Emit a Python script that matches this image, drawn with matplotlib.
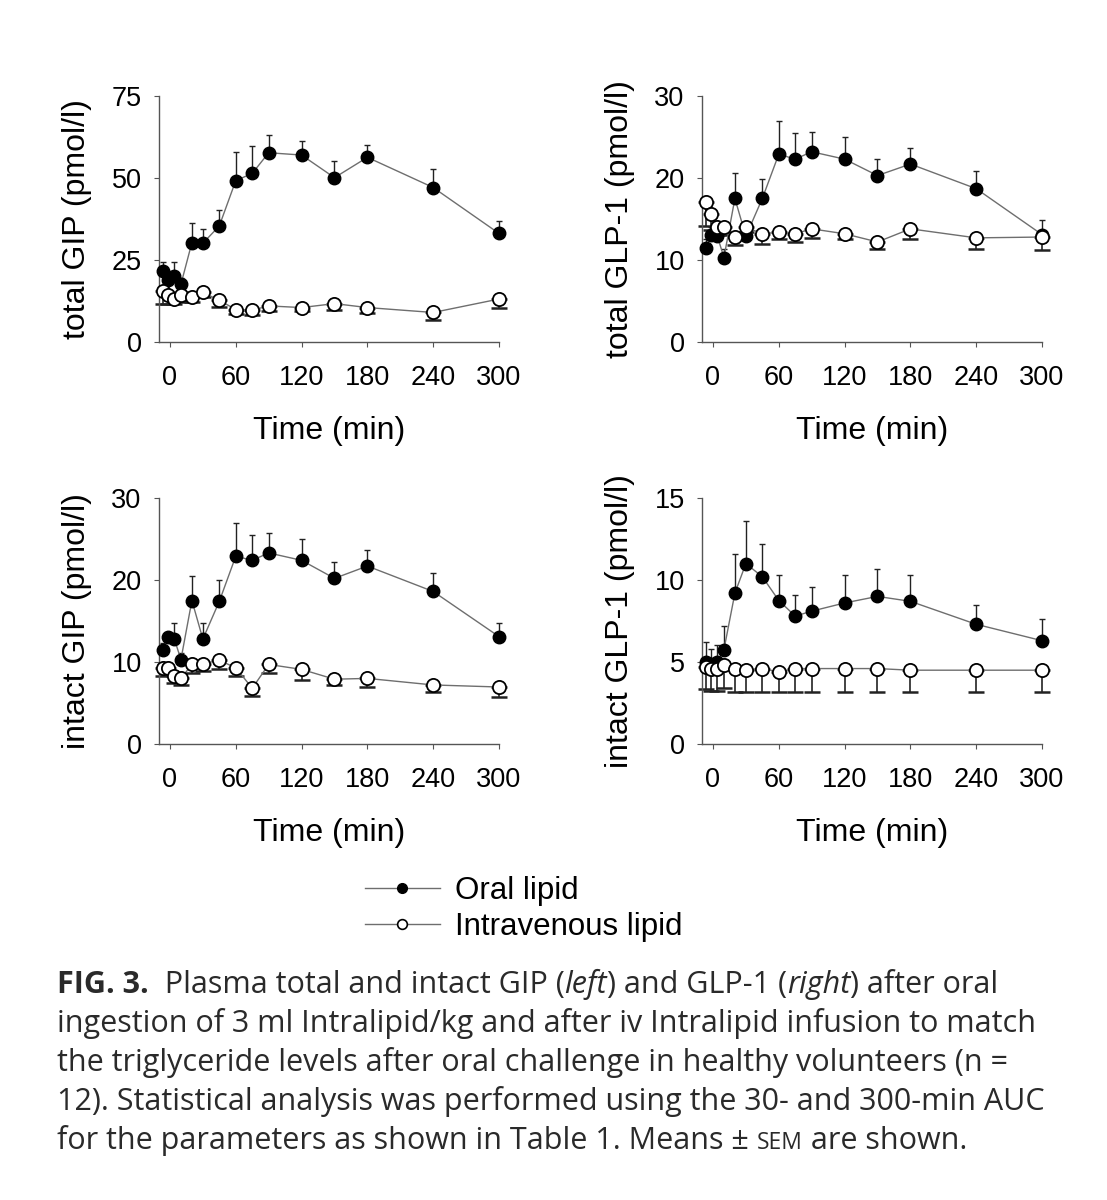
import numpy as np
import matplotlib
matplotlib.use("Agg")
import matplotlib.pyplot as plt
from matplotlib.lines import Line2D

plt.rcParams['font.family'] = ['Liberation Sans', 'DejaVu Sans']

# sampling times (min)
time = [-6, -2, 4, 10, 20, 30, 45, 60, 75, 90, 120, 150, 180, 240, 300]

# total GIP
gip_tot_oral = [21.7, 19.0, 20.0, 17.6, 30.3, 30.1, 35.4, 49.2, 51.4, 57.7, 57.0, 50.1, 56.3, 47.1, 33.1]
gip_tot_oral_sem = [2.7, 2.0, 4.4, 2.0, 6.1, 4.5, 4.8, 8.8, 8.4, 5.3, 4.2, 5.1, 3.9, 5.5, 3.7]
gip_tot_iv = [15.6, 14.2, 13.2, 14.2, 13.7, 15.1, 12.7, 9.9, 9.7, 11.0, 10.5, 11.7, 10.5, 9.0, 13.1]
gip_tot_iv_sem = [3.9, 2.5, 1.7, 2.0, 1.5, 1.5, 2.0, 1.5, 1.6, 1.5, 1.2, 2.0, 1.6, 2.2, 2.6]

# total GLP-1
glp_tot_oral = [11.5, 13.0, 12.9, 10.3, 17.5, 12.9, 17.5, 22.9, 22.3, 23.2, 22.3, 20.3, 21.7, 18.7, 13.1]
glp_tot_oral_sem = [1.0, 1.0, 1.2, 1.0, 3.1, 1.0, 2.4, 4.1, 3.2, 2.4, 2.7, 2.0, 1.9, 2.2, 1.8]
glp_tot_iv = [17.1, 15.6, 14.0, 14.0, 12.8, 14.0, 13.2, 13.4, 13.2, 13.8, 13.2, 12.2, 13.8, 12.7, 12.8]
glp_tot_iv_sem = [3.0, 2.0, 1.0, 1.0, 1.0, 0.6, 1.3, 0.8, 1.0, 1.1, 0.7, 0.9, 1.3, 1.4, 1.6]

# intact GIP
gip_int_oral = [11.5, 13.0, 12.8, 10.3, 17.5, 12.8, 17.4, 22.9, 22.4, 23.3, 22.4, 20.2, 21.7, 18.6, 13.1]
gip_int_oral_sem = [0.8, 0.7, 1.9, 0.8, 3.0, 1.9, 2.6, 4.1, 3.1, 2.4, 2.6, 2.0, 1.9, 2.3, 1.7]
gip_int_iv = [9.3, 9.3, 8.3, 8.0, 9.7, 9.8, 10.2, 9.3, 6.8, 9.7, 9.1, 7.9, 8.0, 7.2, 6.95]
gip_int_iv_sem = [1.0, 0.8, 0.8, 0.8, 1.0, 0.9, 1.1, 1.0, 0.9, 1.0, 1.3, 0.7, 1.0, 0.8, 1.25]

# intact GLP-1
glp_int_oral = [5.0, 4.9, 5.0, 5.75, 9.2, 11.0, 10.2, 8.75, 7.8, 8.1, 8.6, 9.0, 8.7, 7.3, 6.3]
glp_int_oral_sem = [1.2, 0.9, 1.05, 1.45, 2.4, 2.6, 2.0, 1.55, 1.3, 1.5, 1.7, 1.7, 1.6, 1.2, 1.3]
glp_int_iv = [4.7, 4.6, 4.6, 4.8, 4.6, 4.5, 4.6, 4.4, 4.6, 4.6, 4.6, 4.6, 4.5, 4.5, 4.5]
glp_int_iv_sem = [1.35, 1.35, 1.35, 1.4, 1.4, 1.3, 1.4, 1.25, 1.4, 1.4, 1.4, 1.4, 1.3, 1.3, 1.3]

x_ticks = [0, 60, 120, 180, 240, 300]

panels = [
    ("total GIP (pmol/l)", [0, 25, 50, 75], gip_tot_oral, gip_tot_oral_sem, gip_tot_iv, gip_tot_iv_sem),
    ("total GLP-1 (pmol/l)", [0, 10, 20, 30], glp_tot_oral, glp_tot_oral_sem, glp_tot_iv, glp_tot_iv_sem),
    ("intact GIP (pmol/l)", [0, 10, 20, 30], gip_int_oral, gip_int_oral_sem, gip_int_iv, gip_int_iv_sem),
    ("intact GLP-1 (pmol/l)", [0, 5, 10, 15], glp_int_oral, glp_int_oral_sem, glp_int_iv, glp_int_iv_sem),
]

W, H = 1107, 1200
fig = plt.figure(figsize=(W / 100, H / 100), dpi=100)

# axes boxes in pixels: left, top, right, bottom
boxes = [(159, 96, 499, 342), (702, 96, 1042, 342),
         (159, 498, 499, 744), (702, 498, 1042, 744)]

line_col = '#6e6e6e'
spine_col = '#555555'

for (ylab, yt, om, osem, im, isem), (l, t, r, b) in zip(panels, boxes):
    ax = fig.add_axes([l / W, 1 - b / H, (r - l) / W, (b - t) / H])
    n = len(time)
    # error bars: up for oral, down for iv
    ax.errorbar(time, om, yerr=[np.zeros(n), osem], fmt='none', ecolor='#222222',
                elinewidth=1.0, capsize=2.5, capthick=1.0, clip_on=False, zorder=2)
    ax.errorbar(time, im, yerr=[isem, np.zeros(n)], fmt='none', ecolor='#222222',
                elinewidth=1.2, capsize=5.5, capthick=1.8, clip_on=False, zorder=2)
    ax.plot(time, om, '-', color=line_col, lw=1.0, marker='o', ms=9,
            mfc='black', mec='black', clip_on=False, zorder=3)
    ax.plot(time, im, '-', color=line_col, lw=1.0, marker='o', ms=9.5,
            mfc='white', mec='black', mew=1.3, clip_on=False, zorder=4)

    ax.set_xlim(-10, 300)
    ax.set_ylim(0, yt[-1])
    ax.set_xticks(x_ticks)
    ax.set_yticks(yt)
    for s in ['top', 'right']:
        ax.spines[s].set_visible(False)
    for s in ['left', 'bottom']:
        ax.spines[s].set_color(spine_col)
        ax.spines[s].set_linewidth(1.0)
    ax.tick_params(axis='both', direction='out', length=3.5, width=0.8,
                   color=spine_col, labelsize=19.5)
    ax.tick_params(axis='x', pad=13)
    ax.tick_params(axis='y', pad=9)
    ax.set_xlabel("Time (min)", fontsize=23, labelpad=18)
    ax.set_ylabel(ylab, fontsize=23, labelpad=14)

# legend
handles = [Line2D([], [], color=line_col, lw=1.0, marker='o', ms=7, mfc='black', mec='black'),
           Line2D([], [], color=line_col, lw=1.0, marker='o', ms=7, mfc='white', mec='black', mew=1.2)]
fig.legend(handles, ["Oral lipid", "Intravenous lipid"], loc='upper left',
           bbox_to_anchor=(352 / W, 1 - 863 / H), frameon=False, fontsize=22.5,
           handlelength=2.4, handletextpad=0.5, labelspacing=0.2, borderaxespad=0)

# caption with mixed styles
cap_col = '#2a2a2a'
cap_size = 22
cap_lines = [
    [("FIG. 3.", {'weight': 'bold'}), ("  Plasma total and intact GIP (", {}), ("left", {'style': 'italic'}),
     (") and GLP-1 (", {}), ("right", {'style': 'italic'}), (") after oral", {})],
    [("ingestion of 3 ml Intralipid/kg and after iv Intralipid infusion to match", {})],
    [("the triglyceride levels after oral challenge in healthy volunteers (n =", {})],
    [("12). Statistical analysis was performed using the 30- and 300-min AUC", {})],
    [("for the parameters as shown in Table 1. Means \u00b1 ", {}), ("SEM", {'size': 16.5}), (" are shown.", {})],
]
renderer = fig.canvas.get_renderer()
y0 = 993
for i, runs in enumerate(cap_lines):
    x = 57
    y = y0 + i * 39
    for txt, style in runs:
        kw = dict(family=['Open Sans', 'DejaVu Sans'], size=cap_size, color=cap_col)
        kw.update(style)
        tt = fig.text(x / W, 1 - y / H, txt, ha='left', va='baseline', **kw)
        bb = tt.get_window_extent(renderer)
        x += bb.width

fig.savefig("out.png", dpi=100)
